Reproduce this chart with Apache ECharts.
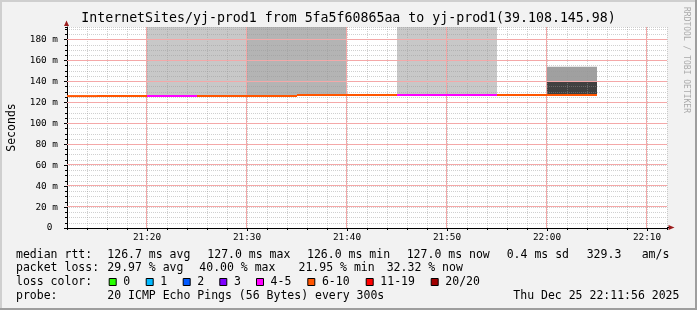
<!DOCTYPE html>
<html><head><meta charset="utf-8">
<script src="https://cdn.jsdelivr.net/npm/echarts@6/dist/echarts.min.js"></script>
<style>html,body{margin:0;padding:0;background:#f2f2f2}#c{width:697px;height:310px}</style>
</head><body><div id="c"></div>
<script>
// x values = minutes after 21:00; each slot lasts 5 minutes (300 s step)
const slotStart  = [10, 15, 20, 25, 30, 35, 40, 45, 50, 55, 60];
const slotLen = 5;
const medianMs   = [126, 126, 126, 126, 126, 127, 127, 127, 127, 127, 127];
const lossBand   = [5, 5, 4, 5, 5, 5, 5, 4, 4, 5, 5]; // index into lossLabels
// smoke (ping spread): lower edge, inner band top, upper edge (ms)
const smokeLo    = [null, null, 126, 126, 126, 127, null, 127, 127, null, 127];
const smokeMid   = [null, null, null, null, null, null, null, null, null, null, 140];
const smokeHi    = [null, null, 192, 192, 192, 192, null, 192, 192, null, 154];
const smokeLevel = [0, 0, 1, 1, 2, 2, 0, 1, 1, 0, 3];
const lossLabels = ['0', '1', '2', '3', '4-5', '6-10', '11-19', '20/20'];
const xMajor = [20, 30, 40, 50, 60, 70];           // 21:20 .. 22:10
const yMajor = [0, 20, 40, 60, 80, 100, 120, 140, 160, 180];
const xMin = 12, xMax = 72;  // 21:12 .. 22:12
const yMax = 192;

// ---- styles ----
const FONT = 'DejaVu Sans Mono';
const lossColors = ['#26ff00', '#00b8ff', '#0059ff', '#7e00ff', '#ff00ff', '#ff5500', '#ff0000', '#a10000'];
const shadeColors = [null, '#c8c8c8', '#b4b4b4', '#a0a0a0'];
const coreColor = '#404040';
const GRAY = 'rgba(150,150,150,0.45)', RED = '#f4a8a8';

const smokeData = slotStart.map((s, i) => [s, smokeLo[i], smokeMid[i], smokeHi[i], smokeLevel[i]])
  .filter(d => d[1] != null);
const medianData = slotStart.map((s, i) => [s, medianMs[i], lossBand[i]]);
const majorGridData = xMajor.map(v => [0, v]).concat(yMajor.filter(v => v > 0).map(v => [1, v]));

function clipR(r, params) {
  return echarts.graphic.clipRectByRect(r, {
    x: params.coordSys.x, y: params.coordSys.y,
    width: params.coordSys.width, height: params.coordSys.height
  });
}
function band(params, api, x0, lo, hi, color) {
  const a = api.coord([x0, hi]), b = api.coord([x0 + slotLen, lo]);
  const r = clipR({x: a[0], y: a[1], width: b[0] - a[0], height: b[1] - a[1]}, params);
  return r ? {type: 'rect', shape: r, style: {fill: color}} : null;
}
function crisp(p) { const d = Math.round(p * 2); return (d + 1) % 2 === 0 ? d / 2 : (d - 1) / 2; }

const fmtTime = v => { const h = 21 + Math.floor(v / 60), m = v % 60; return h + ':' + (m < 10 ? '0' : '') + m; };

const chart = echarts.init(document.getElementById('c'), null, {renderer: 'canvas'});

const legendLines = [
  {y: 255, items: [[16, 'median rtt:'], [107.3, '126.7 ms avg'], [207.3, '127.0 ms max'], [307, '126.0 ms min'], [406.7, '127.0 ms now'], [506.7, '0.4 ms sd'], [586.7, '329.3'], [641.7, 'am/s']]},
  {y: 268.5, items: [[16, 'packet loss:'], [107.3, '29.97 % avg'], [199.3, '40.00 % max'], [298.5, '21.95 % min'], [386.7, '32.32 % now']]},
  {y: 282.5, items: [[16, 'loss color:']]},
  {y: 296, items: [[16, 'probe:'], [107.3, '20 ICMP Echo Pings (56 Bytes) every 300s'], [513.3, 'Thu Dec 25 22:11:56 2025']]}
];
const boxX = [108.7, 145.7, 182.7, 219.3, 256, 307.3, 365.7, 430.7];

const graphics = [
  {type: 'rect', shape: {x: 0, y: 0, width: 697, height: 2}, style: {fill: '#cfcfcf'}, silent: true},
  {type: 'rect', shape: {x: 0, y: 0, width: 2, height: 310}, style: {fill: '#cfcfcf'}, silent: true},
  {type: 'rect', shape: {x: 695, y: 0, width: 2, height: 310}, style: {fill: '#9e9e9e'}, silent: true},
  {type: 'rect', shape: {x: 0, y: 308, width: 697, height: 2}, style: {fill: '#9e9e9e'}, silent: true},
  {type: 'text', x: 348.5, y: 19, style: {text: 'InternetSites/yj-prod1 from 5fa5f60865aa to yj-prod1(39.108.145.98)', font: '13.25px "' + FONT + '"', fill: '#000', align: 'center', verticalAlign: 'middle'}},
  {type: 'text', x: 686.5, y: 60, rotation: -Math.PI / 2, style: {text: 'RRDTOOL / TOBI OETIKER', font: '8px "' + FONT + '"', fill: '#aaaaaa', align: 'center', verticalAlign: 'middle'}},
  {type: 'polygon', shape: {points: [[64, 26], [69, 26], [66.5, 20.5]]}, style: {fill: '#9b1c1c'}, z: 10},
  {type: 'polygon', shape: {points: [[668.5, 225], [668.5, 230], [674.5, 227.5]]}, style: {fill: '#9b1c1c'}, z: 10},
  {type: 'line', shape: {x1: 667, y1: 227.5, x2: 669, y2: 227.5}, style: {stroke: '#000', lineWidth: 1}, z: 10}
];
legendLines.forEach(l => l.items.forEach(([x, t]) => graphics.push({type: 'text', x: x, y: l.y, style: {text: t, font: '11.5px "' + FONT + '"', fill: '#000', verticalAlign: 'middle'}})));
lossLabels.forEach((lab, i) => {
  graphics.push({type: 'rect', shape: {x: boxX[i] + 0.5, y: 278.5, width: 7, height: 7}, style: {fill: lossColors[i], stroke: '#000', lineWidth: 1}});
  graphics.push({type: 'text', x: boxX[i] + 14.6, y: 282.5, style: {text: lab, font: '11.5px "' + FONT + '"', fill: '#000', verticalAlign: 'middle'}});
});

const axisFont = {fontFamily: FONT, fontSize: 9.4, color: '#000'};

chart.setOption({
  animation: false,
  backgroundColor: '#f2f2f2',
  grid: {left: 67, right: 30, top: 27, bottom: 82, show: true, backgroundColor: '#ffffff', borderWidth: 0,
         containLabel: false, outerBoundsMode: 'none'},
  xAxis: [{
    type: 'value', min: xMin, max: xMax, interval: 2, z: 3, position: 'bottom', offset: 0,
    axisLine: {show: true, onZero: false, lineStyle: {color: '#000', width: 1}},
    axisTick: {show: true, length: 2, lineStyle: {color: '#000'}},
    axisLabel: {show: false},
    splitLine: {show: true, lineStyle: {color: GRAY, type: [1, 1], width: 1}}
  }, {
    type: 'value', min: xMin, max: xMax, z: 4, position: 'bottom', offset: 0,
    axisLine: {show: false, onZero: false},
    axisTick: {show: true, length: 3, customValues: xMajor, lineStyle: {color: '#000'}},
    axisLabel: Object.assign({customValues: xMajor, formatter: v => fmtTime(v), margin: 5}, axisFont),
    splitLine: {show: false}
  }],
  yAxis: [{
    type: 'value', min: 0, max: yMax, interval: 5, z: 3, position: 'left', offset: 0,
    name: 'Seconds', nameLocation: 'middle', nameGap: 49,
    nameTextStyle: {fontFamily: FONT, fontSize: 11.5, color: '#000'},
    axisLine: {show: true, onZero: false, lineStyle: {color: '#000', width: 1}},
    axisTick: {show: true, length: 2, lineStyle: {color: '#000'}},
    axisLabel: {show: false},
    splitLine: {show: true, lineStyle: {color: GRAY, type: [1, 1], width: 1}}
  }, {
    type: 'value', min: 0, max: yMax, z: 4, position: 'left', offset: 0,
    axisLine: {show: false, onZero: false},
    axisTick: {show: true, length: 3, customValues: yMajor, lineStyle: {color: '#000'}},
    axisLabel: Object.assign({customValues: yMajor, formatter: v => (v === 0 ? '0 ' : v + ' m'), margin: 9}, axisFont),
    splitLine: {show: false}
  }],
  graphic: graphics,
  series: [
    {
      type: 'custom', z: 2, xAxisIndex: 0, yAxisIndex: 0, data: smokeData,
      renderItem: (params, api) => {
        const x0 = api.value(0), lo = api.value(1), mid = api.value(2), hi = api.value(3), lvl = api.value(4);
        const ch = [];
        if (mid != null && !isNaN(mid)) {
          ch.push(band(params, api, x0, lo, mid, coreColor));
          ch.push(band(params, api, x0, mid, hi, shadeColors[lvl]));
        } else {
          ch.push(band(params, api, x0, lo, hi, shadeColors[lvl]));
        }
        return {type: 'group', children: ch.filter(Boolean)};
      }
    },
    {
      // major grid lines (21:20, 21:30 ... / 20 m, 40 m ...), drawn over the smoke
      type: 'custom', z: 8, xAxisIndex: 0, yAxisIndex: 0, data: majorGridData, silent: true,
      renderItem: (params, api) => {
        const cs = params.coordSys, kind = api.value(0), v = api.value(1);
        const st = {stroke: RED, lineWidth: 1};
        if (kind === 0) {
          const x = crisp(api.coord([v, 0])[0]);
          return {type: 'line', shape: {x1: x, y1: cs.y, x2: x, y2: cs.y + cs.height}, style: st};
        }
        const y = crisp(api.coord([xMin, v])[1]);
        return {type: 'line', shape: {x1: cs.x, y1: y, x2: cs.x + cs.width, y2: y}, style: st};
      }
    },
    {
      type: 'custom', z: 10, xAxisIndex: 0, yAxisIndex: 0, data: medianData,
      renderItem: (params, api) => {
        const x0 = api.value(0), m = api.value(1), b = api.value(2);
        const a = api.coord([x0, m]), e = api.coord([x0 + slotLen, m]);
        const r = clipR({x: a[0], y: a[1] - 1, width: e[0] - a[0], height: 2}, params);
        return r ? {type: 'rect', shape: r, style: {fill: lossColors[b]}} : null;
      }
    }
  ]
});
</script></body></html>
